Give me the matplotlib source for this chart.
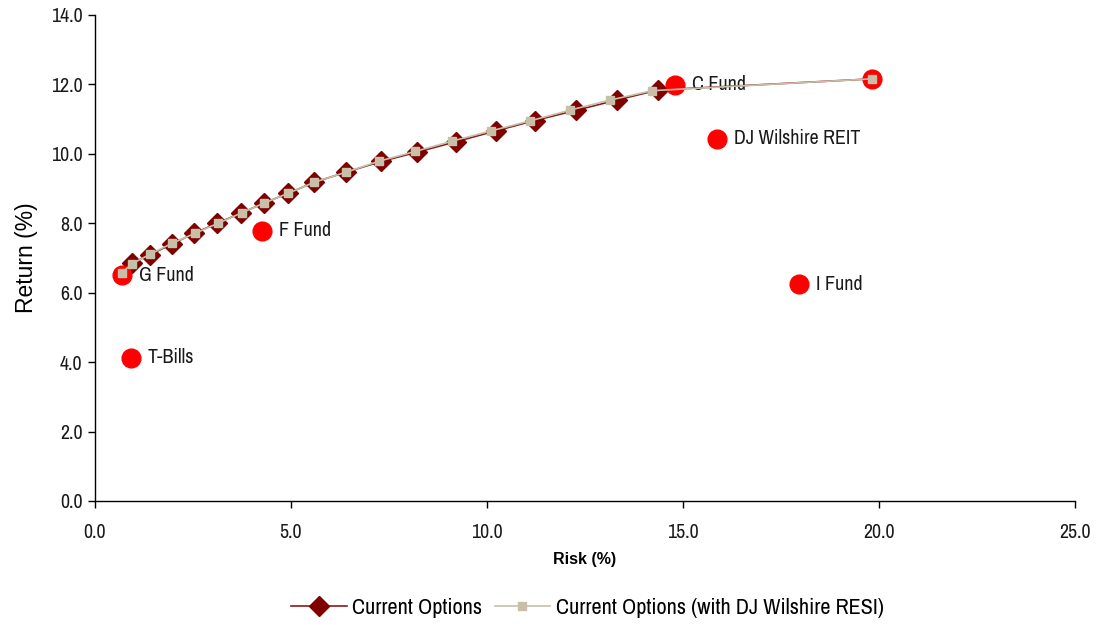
import matplotlib
matplotlib.use("Agg")
import matplotlib.pyplot as plt

NARROW = ["Archivo Narrow", "Roboto Condensed", "DejaVu Sans"]

# Data
cur_risk = [0.69, 0.94, 1.40, 1.96, 2.53, 3.11, 3.72, 4.31, 4.92, 5.59, 6.40, 7.30,
            8.22, 9.21, 10.22, 11.22, 12.26, 13.31, 14.37, 19.82]
cur_ret = [6.58, 6.85, 7.09, 7.40, 7.71, 8.00, 8.29, 8.58, 8.86, 9.18, 9.47, 9.78,
           10.05, 10.35, 10.66, 10.96, 11.25, 11.55, 11.84, 12.16]
resi_risk = [0.69, 0.95, 1.41, 1.96, 2.55, 3.14, 3.74, 4.31, 4.92, 5.59, 6.40, 7.25,
             8.17, 9.12, 10.10, 11.10, 12.12, 13.14, 14.22, 19.82]
resi_ret = [6.58, 6.84, 7.11, 7.42, 7.71, 8.00, 8.30, 8.58, 8.86, 9.18, 9.47, 9.79,
            10.07, 10.37, 10.66, 10.95, 11.26, 11.55, 11.82, 12.16]
fund_names = ["G Fund", "T-Bills", "F Fund", "C Fund", "DJ Wilshire REIT", "I Fund", ""]
fund_risk = [0.69, 0.92, 4.26, 14.80, 15.87, 17.96, 19.82]
fund_ret = [6.51, 4.12, 7.78, 11.99, 10.43, 6.25, 12.16]
x_ticks = [0, 5, 10, 15, 20, 25]
y_ticks = [0, 2, 4, 6, 8, 10, 12, 14]

fig = plt.figure(figsize=(10.98, 6.25), dpi=100)
ax = fig.add_axes([0.0865, 0.1984, 0.8925, 0.7776])

l1, = ax.plot(cur_risk, cur_ret, color="#8B1A1A", lw=1.2, marker="D", markersize=10,
              markerfacecolor="#800000", markeredgecolor="#800000", zorder=2,
              markevery=list(range(1, len(cur_risk) - 1)),
              label="Current Options")
ax.plot(fund_risk, fund_ret, linestyle="none", marker="o", markersize=13.5,
        color="#FF0000", zorder=3)
l2, = ax.plot(resi_risk, resi_ret, color="#C8BFA8", lw=1.2, marker="s", markersize=6,
              markerfacecolor="#C8BFA8", markeredgecolor="#C8BFA8", zorder=4,
              label="Current Options (with DJ Wilshire RESI)")

for n, x, y in zip(fund_names, fund_risk, fund_ret):
    if n:
        ax.annotate(n, (x, y), xytext=(12, 0), textcoords="offset points",
                    va="center", ha="left", fontsize=14.4, family=NARROW,
                    color="#1a1a1a")

ax.set_xlim(0, 25)
ax.set_ylim(0, 14)
ax.set_xticks(x_ticks)
ax.set_yticks(y_ticks)
ax.set_xticklabels([f"{v:.1f}" for v in x_ticks])
ax.set_yticklabels([f"{v:.1f}" for v in y_ticks])
for lab in ax.get_xticklabels() + ax.get_yticklabels():
    lab.set_family(NARROW)
    lab.set_fontsize(14.3)
    lab.set_color("#1a1a1a")
ax.tick_params(direction="out", length=5, width=1, color="black")
ax.tick_params(axis="x", pad=11)
ax.tick_params(axis="y", pad=4)
for s in ["top", "right"]:
    ax.spines[s].set_visible(False)
for s in ["left", "bottom"]:
    ax.spines[s].set_color("black")
    ax.spines[s].set_linewidth(1)

ax.set_xlabel("Risk (%)", fontsize=11.5, fontweight="bold", family="Liberation Sans",
              labelpad=7)
ax.set_ylabel("Return (%)", fontsize=16.5, family="Liberation Sans", labelpad=9)

leg = fig.legend(handles=[l1, l2], loc="center", bbox_to_anchor=(0.535, 0.028),
                 ncol=2, frameon=False, prop={"family": NARROW, "size": 16},
                 handlelength=2.5, columnspacing=0.55, handletextpad=0.25)

fig.savefig("out.png", dpi=100)
